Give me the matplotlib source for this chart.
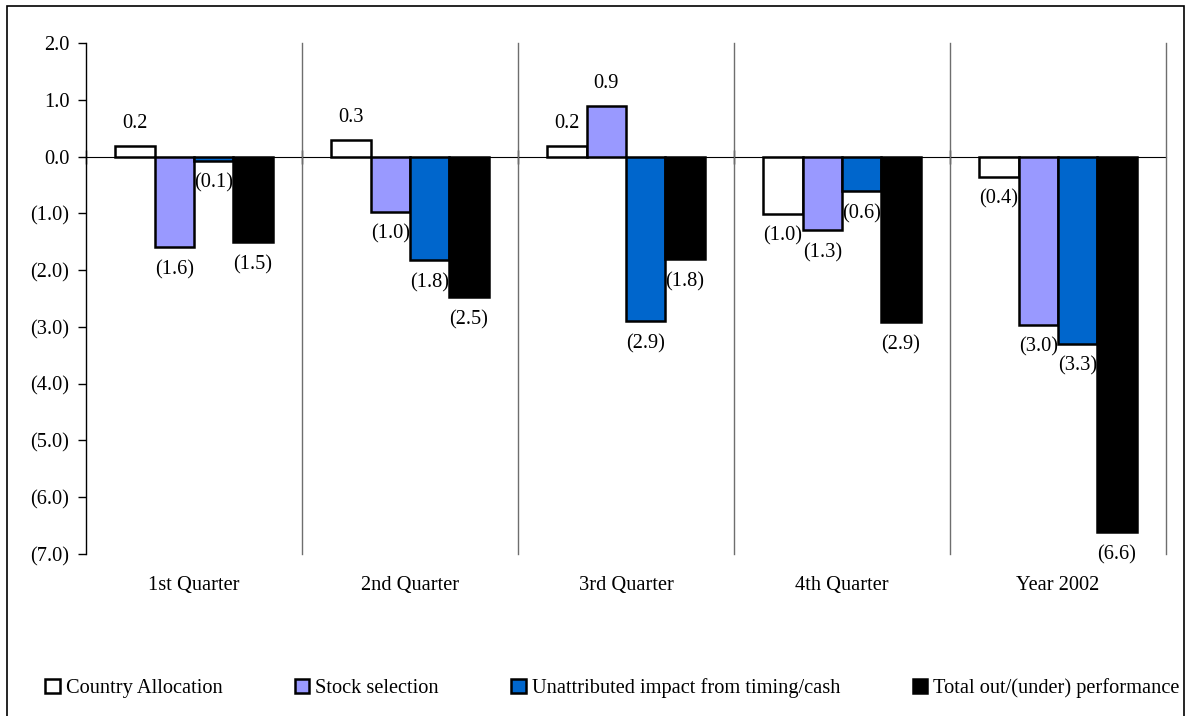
import matplotlib
matplotlib.use("Agg")
import matplotlib.pyplot as plt
from matplotlib.patches import Patch, Rectangle

plt.rcParams["font.family"] = ["Liberation Serif", "DejaVu Serif"]
plt.rcParams["font.size"] = 14.7

periods = ["1st Quarter", "2nd Quarter", "3rd Quarter", "4th Quarter", "Year 2002"]
country_alloc = [0.19, 0.30, 0.19, -1.01, -0.36]
stock_sel = [-1.60, -0.97, 0.89, -1.30, -2.96]
timing_cash = [-0.07, -1.83, -2.90, -0.61, -3.30]
total_perf = [-1.51, -2.48, -1.81, -2.92, -6.62]

series = [
    ("Country Allocation", country_alloc, "white"),
    ("Stock selection", stock_sel, "#9999FF"),
    ("Unattributed impact from timing/cash", timing_cash, "#0066CC"),
    ("Total out/(under) performance", total_perf, "black"),
]

y_ticks = [2, 1, 0, -1, -2, -3, -4, -5, -6, -7]


def fmt(v):
    s = f"{abs(v):.1f}"
    return f"({s})" if v < 0 else s


fig = plt.figure(figsize=(11.86, 7.16), dpi=100)
ax = fig.add_axes([86 / 1186, 1 - 554 / 716, 1080 / 1186, 511 / 716])

width = 0.182
x = list(range(len(periods)))
for i, (name, vals, color) in enumerate(series):
    xs = [xi + (i - 1.5) * width for xi in x]
    ax.bar(xs, vals, width=width, color=color, edgecolor="black", linewidth=1.8, zorder=3)
    for xi, v in zip(xs, vals):
        ax.annotate(fmt(v), (xi, v), xytext=(0, 16 if v >= 0 else -16),
                    textcoords="offset points", ha="center", va="center", zorder=4)

ax.set_xlim(-0.5, len(periods) - 0.5)
ax.set_ylim(-7, 2)
ax.set_yticks(y_ticks)
ax.set_yticklabels([fmt(t) for t in y_ticks])
ax.tick_params(axis="y", direction="out", length=6, width=1, pad=6)

ax.set_xticks(x)
ax.set_xticklabels(periods)
ax.tick_params(axis="x", length=0, pad=16)

for s in ["top", "right", "bottom"]:
    ax.spines[s].set_visible(False)
ax.spines["left"].set_linewidth(1)

# separators between periods
for b in range(1, len(periods) + 1):
    ax.axvline(b - 0.5, color="#6e6e6e", linewidth=1, zorder=1, clip_on=False)

# zero line with crossing ticks at the period boundaries
zero_ax = ax.secondary_xaxis(7 / 9)
zero_ax.set_xticks([b - 0.5 for b in range(len(periods))])
zero_ax.set_xticklabels([])
zero_ax.tick_params(direction="inout", length=10, width=1)
zero_ax.spines["bottom"].set_linewidth(1)

handles = [Patch(facecolor=c, edgecolor="black", linewidth=1.8, label=n) for n, _, c in series]
fig.legend(handles=handles, loc="center left", bbox_to_anchor=(35 / 1186, 1 - 688 / 716),
           ncol=4, frameon=False, borderpad=0, handlelength=0.7, handleheight=0.7,
           handletextpad=0.3, columnspacing=3.55)

fig.patches.append(Rectangle((7 / 1186, -0.05), 1177 / 1186, 1.05 - 6 / 716,
                             transform=fig.transFigure, fill=False,
                             edgecolor="black", linewidth=1.2))

fig.savefig("out.png", dpi=100)
